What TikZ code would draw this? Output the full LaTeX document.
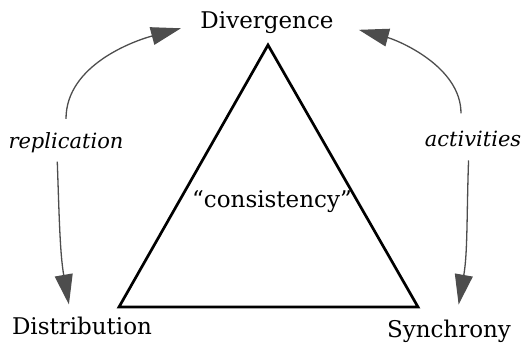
\documentclass[tikz,border=0pt]{standalone}
\usepackage{fontspec}
\setmainfont{DejaVu Serif}
\usetikzlibrary{arrows.meta}

\definecolor{arrowgray}{HTML}{4D4D4D}

\tikzset{
    label text/.style={inner sep=0pt, anchor=base, font=\fontsize{23}{27}\selectfont},
    side text/.style={label text, font=\fontsize{21}{25}\selectfont\itshape},
    flow/.style={draw=arrowgray, line width=1.3pt, -{Triangle[length=30pt,width=18pt]}}
}

\begin{document}
\begin{tikzpicture}[x=1pt, y=1pt]
        \useasboundingbox (0,0) rectangle (529,345);

        % the three corners
        \node[label text] (div) at (267, 316) {Divergence};
        \node[label text] (dist) at (82, 11) {Distribution};
        \node[label text] (sync) at (449, 8) {Synchrony};

        % triangle and its inside
        \draw[line width=2.7pt] (268, 300) -- (119, 38) -- (418, 38) -- cycle;
        \node[label text] (cons) at (272, 137) {``consistency''};

        % side labels
        \node[side text] (repl) at (66, 196) {replication};
        \node[side text] (act) at (473, 198) {activities};

        % arrows
        \draw[flow, shorten <=14pt, shorten >=20pt] (repl.north) to[out=90, in=195] (div.west);
        \draw[flow, shorten <=8pt, shorten >=12pt] ([xshift=-9pt]repl.south) to[out=-88, in=100] ([xshift=-11pt]dist.north);
        \draw[flow, shorten <=18pt, shorten >=26pt] ([xshift=-12pt]act.north) to[out=90, in=-15] (div.east);
        \draw[flow, shorten <=13pt, shorten >=15pt] ([xshift=-4pt]act.south) to[out=-92, in=80] ([xshift=7pt]sync.north);
    \end{tikzpicture}
\end{document}
